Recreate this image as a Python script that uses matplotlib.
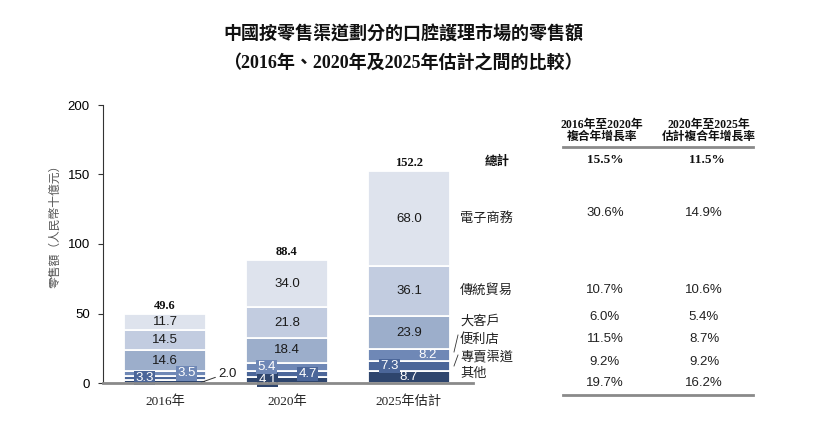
import matplotlib
matplotlib.use("Agg")
import matplotlib.pyplot as plt
import numpy as np

plt.rcParams['font.family'] = ['Liberation Sans', 'Noto Sans CJK TC']

# data (bottom -> top)
years = ["2016年", "2020年", "2025年估計"]
channels = ["其他", "專賣渠道", "便利店", "大客戶", "傳統貿易", "電子商務"]
other = [2.0, 4.1, 8.7]
specialty = [3.3, 4.7, 7.3]
convenience = [3.5, 5.4, 8.2]
key_account = [14.6, 18.4, 23.9]
traditional = [14.5, 21.8, 36.1]
ecommerce = [11.7, 34.0, 68.0]
totals = [49.6, 88.4, 152.2]

cagr_16_20 = ["30.6%", "10.7%", "6.0%", "11.5%", "9.2%", "19.7%"]   # 電子商務 ... 其他
cagr_20_25 = ["14.9%", "10.6%", "5.4%", "8.7%", "9.2%", "16.2%"]
total_cagr = ["15.5%", "11.5%"]

colors = ["#2e456d", "#4b6699", "#6f88b6", "#9caecb", "#c2cce0", "#dee3ed"]
series = [other, specialty, convenience, key_account, traditional, ecommerce]

W, H = 827, 425
fig = plt.figure(figsize=(W / 100, H / 100), dpi=100)

def fx(px):
    return px / W

def fy(py):
    return 1 - py / H

# axes: y axis at x=103, x axis line to 473, y 0 at 383, 200 at 105
ax = fig.add_axes([fx(103), fy(383), fx(473) - fx(103), fy(105) - fy(383)])
x = np.arange(len(years))
bw = 0.672
bottom = np.zeros(len(years))
for vals, c in zip(series, colors):
    ax.bar(x, vals, bw, bottom=bottom, color=c, edgecolor="white", linewidth=1.3, zorder=2)
    bottom += np.array(vals)

ax.set_xlim(-0.508, 2.525)
ax.set_ylim(0, 200)
ax.set_yticks([0, 50, 100, 150, 200])
ax.tick_params(axis="y", labelsize=9.5, length=3.5, width=0.8, color="#333333", pad=6)
ax.tick_params(axis="x", length=0)
ax.set_xticks([])
for s in ["top", "right"]:
    ax.spines[s].set_visible(False)
ax.spines["left"].set_color("#333333")
ax.spines["left"].set_linewidth(0.8)
ax.spines["bottom"].set_color("#8a8a8a")
ax.spines["bottom"].set_linewidth(2)
ax.spines["bottom"].set_zorder(5)

# year labels
for i, yr in enumerate(years):
    ax.text(x[i], -13.5, yr, ha="center", va="center", fontsize=9.5,
            family=["Liberation Serif", "Noto Sans CJK TC"], color="#222222")

# small segment labels: (year, segment) -> (dx, boxed)
small = {
    (0, 1): (-0.165, True), (0, 2): (0.18, True),
    (1, 0): (-0.16, True), (1, 1): (0.17, True), (1, 2): (-0.165, True),
    (2, 0): (0.0, False), (2, 1): (-0.16, True), (2, 2): (0.15, False),
}

bottom = np.zeros(len(years))
for si, (vals, c) in enumerate(zip(series, colors)):
    for i, v in enumerate(vals):
        mid = bottom[i] + v / 2
        if si >= 3:
            ax.text(x[i], mid, f"{v:.1f}", ha="center", va="center",
                    fontsize=9.5, color="#1a1a1a", zorder=4)
        elif (i, si) in small:
            dx, boxed = small[(i, si)]
            kw = {}
            if boxed:
                kw["bbox"] = dict(boxstyle="square,pad=0.1", fc=c, ec="none")
            ax.text(x[i] + dx, mid, f"{v:.1f}", ha="center", va="center",
                    fontsize=9.5, color="white", zorder=4, **kw)
        else:
            # outside label with leader line
            ax.annotate(f"{v:.1f}", xy=(x[i] + bw / 2 - 0.04, mid - 0.6),
                        xytext=(x[i] + bw / 2 + 0.1, mid + 5.5),
                        ha="left", va="center", fontsize=9.5, color="#1a1a1a",
                        arrowprops=dict(arrowstyle="-", color="#333333", lw=0.7,
                                        shrinkA=0, shrinkB=0, relpos=(0, 0.3)),
                        zorder=4)
    bottom += np.array(vals)

for i, t in enumerate(totals):
    ax.text(x[i], t + 6, f"{t:.1f}", ha="center", va="center", fontsize=9,
            fontweight="bold", family="Liberation Serif", color="#111111")

# y label
fig.text(fx(55), fy(223), "零售額（人民幣十億元）", rotation=90, ha="center", va="center",
         fontsize=8.5, color="#555555", family=["Noto Sans CJK TC"])

# title
fig.text(fx(403), fy(34), "中國按零售渠道劃分的口腔護理市場的零售額", ha="center", va="center",
         fontsize=13, fontweight="bold", family=["Noto Sans CJK TC"], color="#111111")
fig.text(fx(403), fy(63), "（2016年、2020年及2025年估計之間的比較）", ha="center", va="center",
         fontsize=13, fontweight="bold", family=["Liberation Serif", "Noto Sans CJK TC"],
         color="#111111")

# right table
col1, col2 = 605, 707
hdr_font = ["Liberation Serif", "Noto Sans CJK TC"]
fig.text(fx(col1 - 3), fy(131), "2016年至2020年\n複合年增長率", ha="center", va="center",
         fontsize=8.5, fontweight="bold", family=hdr_font, linespacing=1.0, color="#111111")
fig.text(fx(col2 + 2), fy(131), "2020年至2025年\n估計複合年增長率", ha="center", va="center",
         fontsize=8.5, fontweight="bold", family=hdr_font, linespacing=1.0, color="#111111")
for yy in [147, 395]:
    fig.add_artist(plt.Line2D([fx(563), fx(753)], [fy(yy), fy(yy)], color="#8a8a8a", lw=2))

fig.text(fx(497), fy(161), "總計", ha="center", va="center", fontsize=9, fontweight="bold",
         family=["Noto Sans CJK TC"], color="#111111")
fig.text(fx(col1), fy(160), total_cagr[0], ha="center", va="center", fontsize=9.5,
         fontweight="bold", family="Liberation Serif", color="#111111")
fig.text(fx(col2), fy(160), total_cagr[1], ha="center", va="center", fontsize=9.5,
         fontweight="bold", family="Liberation Serif", color="#111111")

label_names = channels[::-1]  # 電子商務 ... 其他
label_y = [218, 290, 321, 339, 357, 373]
value_y = [213, 290, 317, 339, 362, 383]
for name, ly, vy, a, b in zip(label_names, label_y, value_y, cagr_16_20, cagr_20_25):
    fig.text(fx(460), fy(ly), name, ha="left", va="center", fontsize=9.5,
             family=["Noto Sans CJK TC"], color="#222222")
    fig.text(fx(col1), fy(vy), a, ha="center", va="center", fontsize=9.5, color="#222222")
    fig.text(fx(col2 - 3), fy(vy), b, ha="center", va="center", fontsize=9.5, color="#222222")

# leader slashes for small categories
for y0, y1 in [(352, 335), (366, 355)]:
    fig.add_artist(plt.Line2D([fx(454), fx(458)], [fy(y0), fy(y1)], color="#333333", lw=0.6))

fig.savefig("out.png", dpi=100)
